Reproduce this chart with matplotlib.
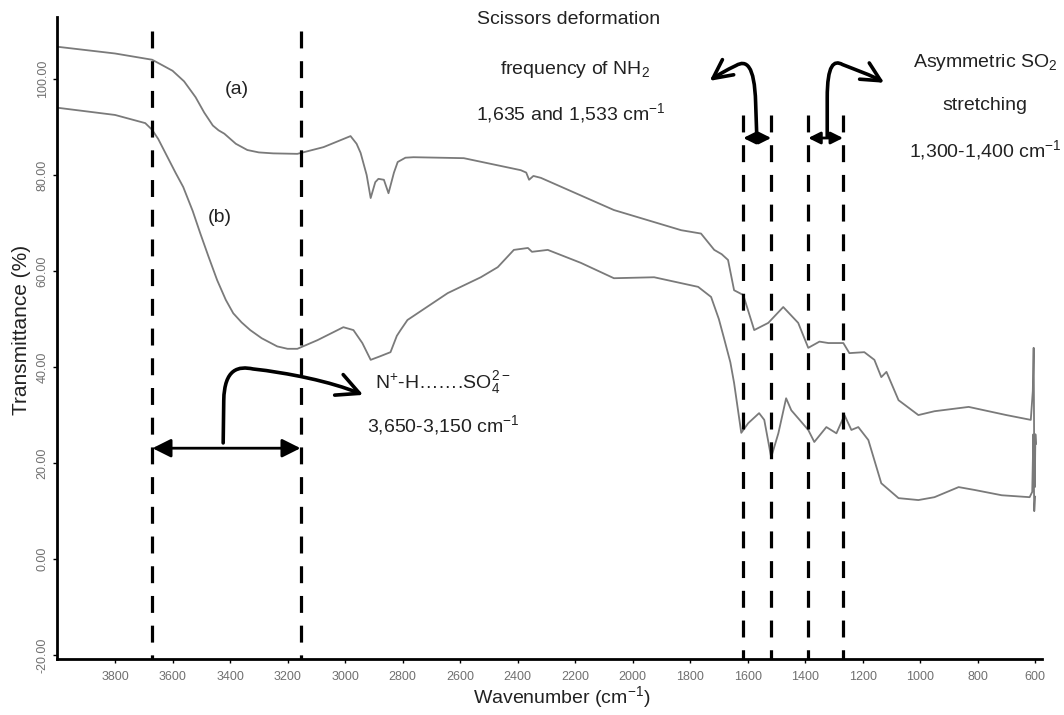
import matplotlib
matplotlib.use("Agg")
import matplotlib.pyplot as plt
from matplotlib.path import Path
from matplotlib.patches import FancyArrowPatch

plt.rcParams['font.family'] = ['Liberation Sans', 'DejaVu Sans']
plt.rcParams['mathtext.fontset'] = 'custom'
plt.rcParams['mathtext.rm'] = 'Liberation Sans'

# spectrum (a)
wave_a = [4000, 3800, 3671, 3640, 3600, 3560, 3520, 3490, 3460, 3440, 3420, 3380,
          3340, 3300, 3250, 3166, 3075, 2981, 2960, 2946, 2925, 2911, 2895, 2884,
          2865, 2849, 2830, 2817, 2790, 2762, 2587, 2389, 2370, 2360, 2345, 2319,
          2065, 1831, 1762, 1716, 1690, 1668, 1647, 1615, 1577, 1528, 1476, 1424,
          1389, 1350, 1319, 1267, 1246, 1194, 1159, 1135, 1117, 1075, 1006, 950,
          831, 700, 615, 608, 605, 603, 601, 599, 597]
trans_a = [106.7, 105.3, 104.0, 103.0, 101.7, 99.5, 96.2, 93.0, 90.3, 89.3, 88.6, 86.5,
           85.2, 84.7, 84.5, 84.4, 85.8, 88.1, 86.5, 84.6, 80.0, 75.2, 78.5, 79.2,
           79.0, 76.2, 80.5, 82.7, 83.6, 83.7, 83.5, 81.0, 80.5, 79.0, 79.8, 79.4,
           72.7, 68.5, 67.8, 64.4, 63.5, 62.3, 56.0, 55.0, 47.7, 49.2, 52.5, 49.2,
           44.0, 45.3, 45.0, 45.0, 42.9, 43.1, 41.5, 37.9, 39.0, 33.1, 30.0, 30.8,
           31.7, 30.0, 29.0, 35.0, 44.0, 20.0, 15.0, 26.0, 24.0]

# spectrum (b)
wave_b = [4000, 3800, 3695, 3671, 3650, 3620, 3590, 3563, 3530, 3504, 3475, 3445,
          3415, 3389, 3360, 3330, 3290, 3236, 3200, 3166, 3096, 3006, 2971, 2940,
          2911, 2880, 2842, 2820, 2807, 2783, 2643, 2528, 2469, 2413, 2364, 2350,
          2295, 2180, 2065, 1925, 1772, 1727, 1700, 1682, 1660, 1647, 1622, 1598,
          1560, 1542, 1518, 1493, 1466, 1448, 1389, 1368, 1326, 1291, 1263, 1239,
          1215, 1180, 1135, 1075, 1006, 950, 866, 810, 716, 619, 610, 606, 603, 600]
trans_b = [94.0, 92.5, 90.8, 89.4, 87.5, 84.0, 80.5, 77.5, 72.5, 67.9, 63.0, 58.1,
           54.0, 51.2, 49.3, 47.7, 46.0, 44.3, 43.8, 43.8, 45.6, 48.3, 47.7, 45.0,
           41.5, 42.2, 43.1, 46.5, 47.7, 49.8, 55.4, 58.7, 60.8, 64.4, 64.8, 64.0,
           64.4, 61.7, 58.5, 58.7, 56.7, 54.6, 50.0, 46.0, 41.0, 36.7, 26.3, 28.3,
           30.4, 29.0, 21.2, 26.2, 33.5, 31.0, 26.9, 24.4, 27.5, 26.2, 30.0, 26.9,
           27.5, 24.8, 15.8, 12.7, 12.3, 12.9, 15.0, 14.4, 13.3, 12.9, 14.0, 26.0, 10.0, 13.0]

xticks = list(range(3800, 599, -200))
yticks = [-20, 0, 20, 40, 60, 80, 100]

# marked band edges (cm-1)
band_nh = [3670, 3155]
band_right = [1615, 1518, 1389, 1268]

fig = plt.figure(figsize=(10.64, 7.15), dpi=100)
ax = fig.add_axes([57 / 1064, 56 / 715, 985 / 1064, 642 / 715])

ax.plot(wave_a, trans_a, color='#7a7a7a', lw=1.3)
ax.plot(wave_b, trans_b, color='#7a7a7a', lw=1.3)

ax.set_xlim(4002, 576)
ax.set_ylim(-20.8, 112.9)
ax.set_xticks(xticks)
ax.set_xticklabels([str(t) for t in xticks])
ax.set_yticks(yticks)
ax.set_yticklabels(['%.2f' % t for t in yticks], rotation=90, va='center')
ax.tick_params(axis='both', labelsize=9, labelcolor='#707070', length=3, width=1)
ax.tick_params(axis='x', pad=6)
ax.tick_params(axis='y', pad=3)
for s in ['top', 'right']:
    ax.spines[s].set_visible(False)
for s in ['left', 'bottom']:
    ax.spines[s].set_linewidth(2)

# dashed band lines
dash = (0, (5.3, 4))
for w in band_nh:
    ax.plot([w, w], [110, -20.8], color='k', lw=2.3, ls=dash, clip_on=False)
for w in band_right:
    ax.plot([w, w], [92.5, -20.8], color='k', lw=2.3, ls=dash, clip_on=False)

# double headed arrows
ax.annotate('', xy=(band_nh[1], 23.1), xytext=(band_nh[0], 23.1),
            arrowprops=dict(arrowstyle='<|-|>', color='k', lw=2, mutation_scale=28,
                            shrinkA=0, shrinkB=0))
for i in (0, 2):
    ax.annotate('', xy=(band_right[i + 1], 87.7), xytext=(band_right[i], 87.7),
                arrowprops=dict(arrowstyle='<|-|>', color='k', lw=2, mutation_scale=18,
                                shrinkA=0, shrinkB=0))


def curved(verts, ms=40):
    codes = [Path.MOVETO, Path.LINETO] + [Path.CURVE4] * (len(verts) - 2)
    p = FancyArrowPatch(path=Path(verts, codes), arrowstyle='->', color='k', lw=2.6,
                        mutation_scale=ms, clip_on=False)
    ax.add_patch(p)


curved([(3424, 24.2), (3422, 33), (3420, 39.8), (3370, 40.2), (3320, 39.6),
        (3200, 38.8), (3050, 37.0), (2937, 34.2)])
curved([(1568, 88), (1572, 95), (1576, 103), (1605, 104.0), (1640, 102.8),
        (1675, 101.8), (1705, 100.8), (1732, 99.6)], ms=34)
curved([(1323, 88), (1323, 96), (1323, 103), (1300, 104.0), (1270, 103.0),
        (1220, 101.8), (1170, 100.8), (1125, 99.2)], ms=34)

# labels
txt = dict(fontsize=14, color='#222222', ha='center', va='center')
ax.text(3376, 97.7, '(a)', **txt)
ax.text(3435, 71.2, '(b)', **txt)
ax.text(2659, 36.7, r'N$\mathregular{^{+}}$-H…….SO$\mathregular{_{4}^{2-}}$', **txt)
ax.text(2659, 27.9, r'3,650-3,150 cm$\mathregular{^{-1}}$', **txt)
ax.text(2224, 112.3, 'Scissors deformation', clip_on=False, **txt)
ax.text(2200, 101.9, r'frequency of NH$\mathregular{_{2}}$', **txt)
ax.text(2217, 92.9, r'1,635 and 1,533 cm$\mathregular{^{-1}}$', **txt)
ax.text(774, 103.5, r'Asymmetric SO$\mathregular{_{2}}$', **txt)
ax.text(774, 94.4, 'stretching', **txt)
ax.text(774, 85.2, r'1,300-1,400 cm$\mathregular{^{-1}}$', **txt)

fig.text(22 / 1064, 1 - 330 / 715, 'Transmittance (%)', rotation=90, fontsize=15,
         ha='center', va='center', color='#222222')
fig.text(562 / 1064, 1 - 697 / 715, r'Wavenumber (cm$\mathregular{^{-1}}$)', fontsize=14,
         ha='center', va='center', color='#222222')

fig.savefig('out.png', dpi=100)
